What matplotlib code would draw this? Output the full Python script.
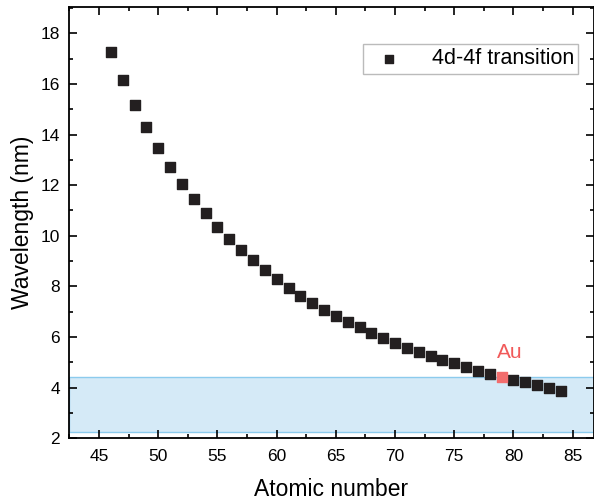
import numpy as np
import matplotlib.pyplot as plt
from matplotlib.ticker import MultipleLocator

plt.rcParams['font.family'] = ['Liberation Sans', 'DejaVu Sans']

# 4d-4f transition wavelengths vs atomic number
Z = np.arange(46, 85)
wl = [17.25, 16.14, 15.15, 14.28, 13.45, 12.73, 12.06, 11.47, 10.9, 10.36,
      9.88, 9.45, 9.05, 8.65, 8.3, 7.94, 7.62, 7.35, 7.07, 6.82,
      6.6, 6.4, 6.17, 5.95, 5.77, 5.58, 5.4, 5.25, 5.1, 4.95,
      4.8, 4.66, 4.52, 4.4, 4.3, 4.2, 4.1, 3.98, 3.87]
wl = np.array(wl)
au_z = 79
band = (2.25, 4.4)

fig = plt.figure(figsize=(5.94, 5.03), dpi=100)
ax = fig.add_axes([0.116, 0.129, 0.884, 0.857])

ax.axhspan(band[0], band[1], facecolor='#d5eaf7', edgecolor='#8ccbed', lw=1.0, zorder=0)

mask = Z != au_z
ax.scatter(Z[mask], wl[mask], marker='s', s=52, color='#231f20', zorder=3,
           label='4d-4f transition')
ax.scatter(Z[~mask], wl[~mask], marker='s', s=52, color='#f26d6d', zorder=3)
ax.annotate('Au', (au_z, wl[~mask][0]), xytext=(6, 14), textcoords='offset points',
            color='#f15a5a', fontsize=15, ha='center', va='baseline')

ax.set_xlim(42.45, 86.8)
ax.set_ylim(2, 19.04)
ax.xaxis.set_major_locator(MultipleLocator(5))
ax.xaxis.set_minor_locator(MultipleLocator(2.5))
ax.yaxis.set_major_locator(MultipleLocator(2))
ax.yaxis.set_minor_locator(MultipleLocator(1))
ax.tick_params(which='both', direction='in', top=True, right=True, labelsize=12.5, width=1.2)
ax.tick_params(which='major', length=6)
ax.tick_params(which='minor', length=3)
ax.tick_params(axis='x', pad=8)
ax.tick_params(axis='y', pad=6.5)
for sp in ax.spines.values():
    sp.set_linewidth(1.3)

ax.set_xlabel('Atomic number', fontsize=16.5, labelpad=10)
ax.set_ylabel('Wavelength (nm)', fontsize=16.5, labelpad=5)

leg = ax.legend(loc='upper right', bbox_to_anchor=(0.97, 0.914), borderaxespad=0,
                fontsize=15.5, fancybox=False, edgecolor='#aaaaaa', handletextpad=1.0,
                borderpad=0.2, markerscale=0.8)
leg.get_frame().set_linewidth(1.0)

fig.savefig('out.png', dpi=100)
